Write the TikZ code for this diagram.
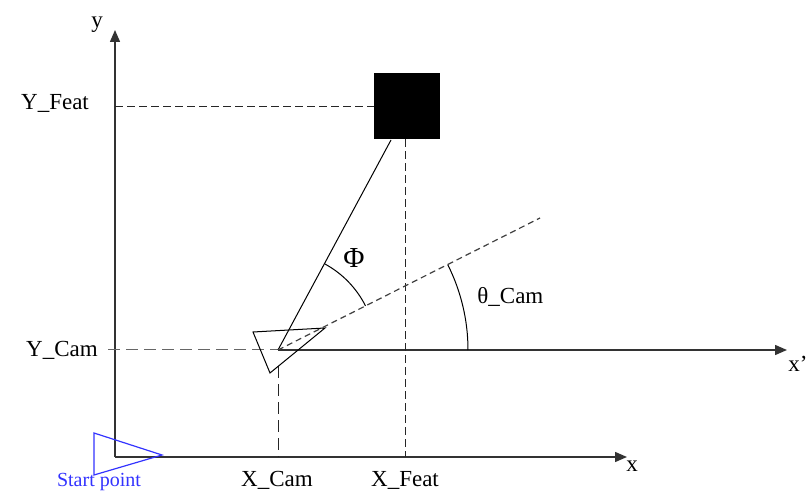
\documentclass[tikz,border=0pt]{standalone}
\usepackage{fontspec}
\setmainfont{Liberation Serif}
\usetikzlibrary{calc}
\usetikzlibrary{arrows.meta}
\begin{document}
\begin{tikzpicture}[x=0.5pt,y=-0.5pt]
\tikzstyle{axis}=[draw=black!80, line width=0.75pt, -{Triangle[length=6pt,width=5pt]}]
\tikzstyle{guide}=[draw=black!85, line width=0.5pt, dash pattern=on 4pt off 2pt]
\tikzstyle{sight}=[draw=black!75, line width=0.6pt, dash pattern=on 3pt off 2pt]
\tikzstyle{lbl}=[font=\fontsize{11.5}{13}\selectfont, inner sep=0pt]
\useasboundingbox (0,0) rectangle (810,492);
\coordinate (O) at (115,457);
\coordinate (C) at (278,350);
\coordinate (XF) at (405,457);
\coordinate (YF) at (115,107);
\coordinate (S) at (540,218);
\coordinate (H) at (391,140);
\node[fill=black, minimum size=33pt, inner sep=0pt] (F) at (407,106) {};
% axes
\draw[axis] (O) -- (115,30);
\draw[axis] (O) -- (627,457);
\draw[axis] (C) -- (787,350);
\node[lbl] (ylab) at (97,25) {y};
\node[lbl] (xlab) at (632,466) {x};
\node[lbl] (xplab) at (798,364) {x’};
% projections
\draw[guide] (YF) -- (F.west |- YF);
\draw[guide] (XF |- F.south) -- (XF);
\draw[guide, draw=black!60, dash pattern=on 6pt off 3pt] (108,350) -- (C);
\draw[guide, dash pattern=on 6pt off 3pt] ($(C)+(0,16)$) -- (C |- O);
\node[lbl] (yf) at (55,103) {Y\_Feat};
\node[lbl] (yc) at (62,350) {Y\_Cam};
\node[lbl] (xc) at (277,480) {X\_Cam};
\node[lbl] (xf) at (405,480) {X\_Feat};
% camera and sight lines
\draw[line width=0.5pt] (253,332) -- (325,328) -- (270,373) -- cycle;
\draw[line width=0.5pt] (C) -- (H);
\draw[sight] (C) -- (S);
\draw[line width=0.5pt] (C) ++(-61.5:98) arc[start angle=-61.5, end angle=-26.7, radius=98];
\draw[line width=0.5pt] (C) ++(-26.7:190) arc[start angle=-26.7, end angle=0, radius=190];
\node[lbl, font=\fontsize{14.5}{16}\selectfont] (phi) at (354,258) {Φ};
\node[lbl, anchor=west] (th) at (477,297) {θ\_Cam};
% start
\draw[draw=blue!80, line width=0.6pt] (94,433) -- (162,455) -- (94,475) -- cycle;
\node[lbl, text=blue!80, font=\fontsize{10}{12}\selectfont] (st) at (99,482) {Start point};
\end{tikzpicture}
\end{document}
